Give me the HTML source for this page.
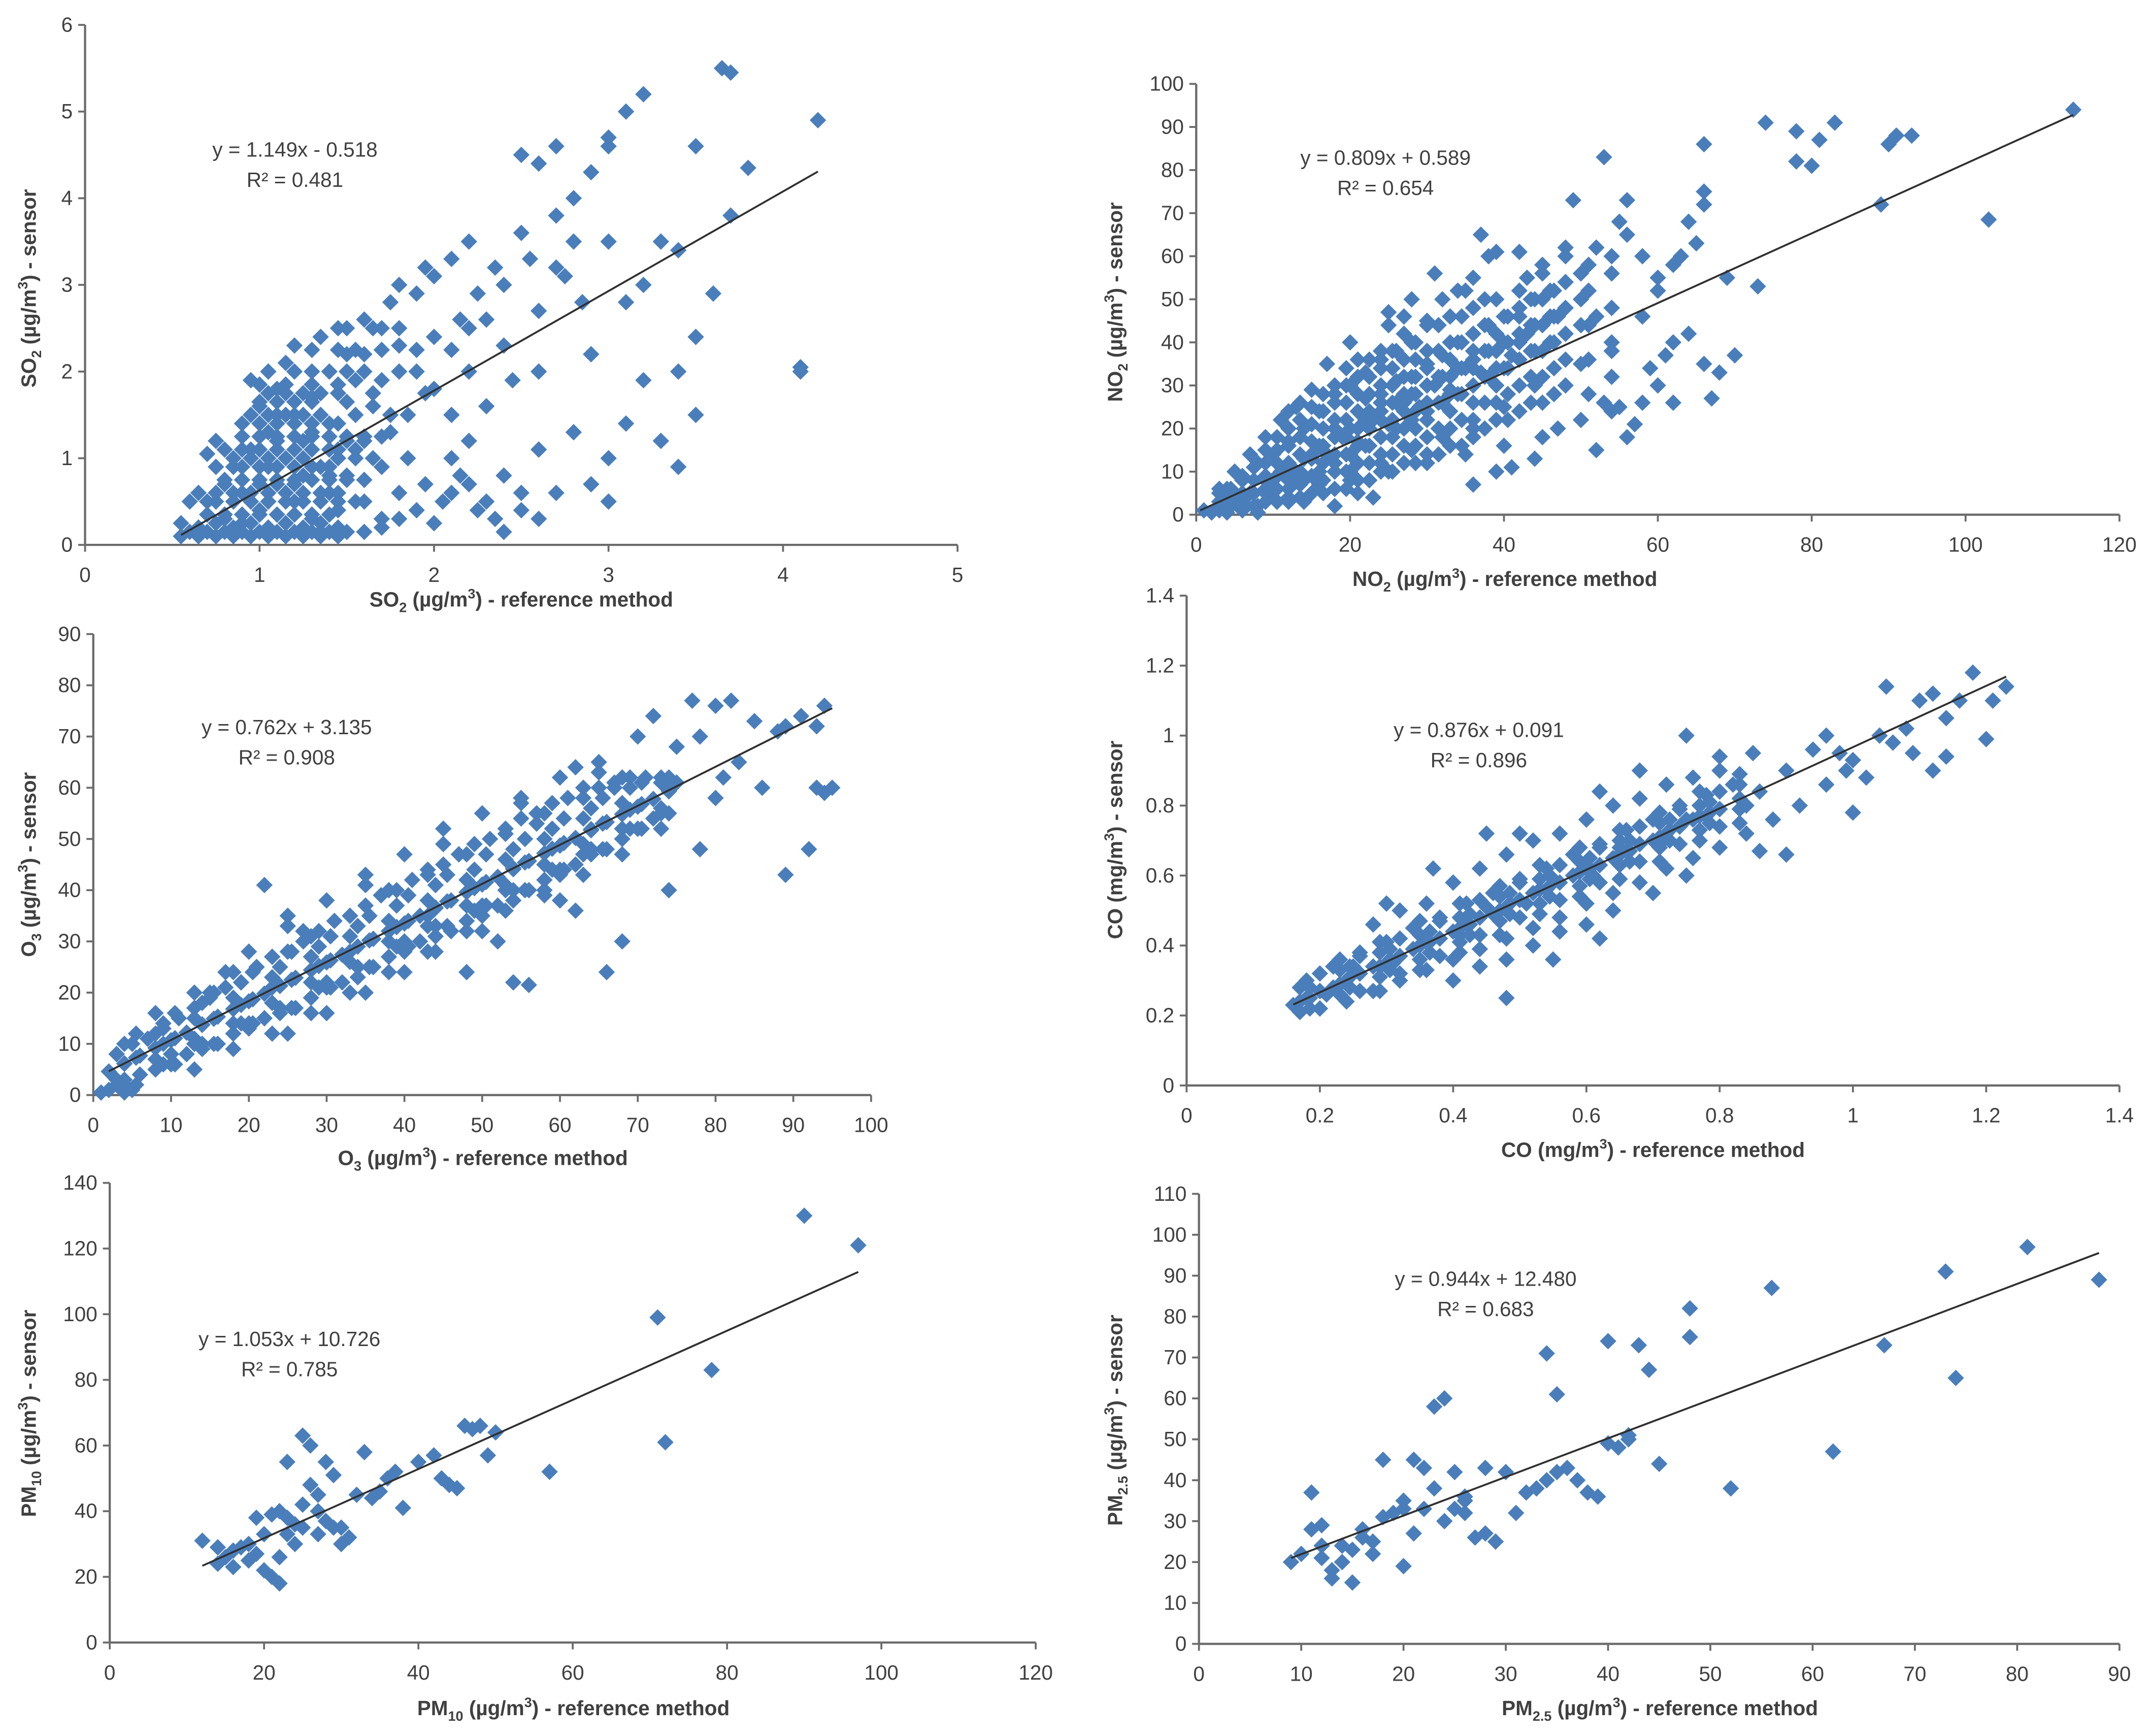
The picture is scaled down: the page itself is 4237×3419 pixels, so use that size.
<!DOCTYPE html>
<html><head><meta charset="utf-8"><title>Sensor vs reference scatter plots</title>
<style>
html,body{margin:0;padding:0;background:#fff;}
svg{display:block;}
text{font-family:"Liberation Sans",Arial,sans-serif;fill:#404040;}
.tick{font-size:15px;}
.title{font-size:15px;font-weight:bold;}
.eq{font-size:15px;}
</style></head>
<body>
<svg id="root" width="4237" height="3419" viewBox="0 0 1568 1265" xmlns="http://www.w3.org/2000/svg"></svg>
<script>
// ---------- SO2 ----------
const so2X=[0.55,0.65,0.75,0.85,0.95,1.05,1.15,1.25,1.35,1.45,0.55,0.65,0.75,0.85,0.95,1.05,1.15,1.25,1.35,1.45,0.7,0.8,0.9,1.0,1.1,1.2,1.3,1.4,0.85,0.95,1.05,1.15,1.25,1.35,1.45,1.0,1.1,1.2,1.3,1.4,0.95,1.15,1.3,1.35,1.5,1.6,1.7,1.75,1.9,2.0,2.1,2.2,1.8,1.55,1.65,1.75,1.85,1.95,2.05,2.15,2.25,1.5,1.6,1.7,1.8,1.9,2.0,2.1,2.2,2.3,2.4,2.5,2.5,2.6,2.7,2.8,2.9,3.0,3.1,3.2,3.0,2.7,2.4,2.6,2.7,2.8,2.9,3.1,3.2,3.3,3.4,3.5,3.6,3.65,3.7,3.8,3.7,4.1,4.2,3.4,3.5,3.3,3.2,3.0,2.9,2.8,2.6,2.5,2.4,2.3,2.2,2.1,2.35,2.7,3.0,3.1,3.4,3.5,3.0,2.6,2.0,1.9,1.8,1.7,1.6,1.45,1.2,0.75,0.7,0.6,0.65,1.1,1.25,1.05,0.9,1.35,1.45,2.15,2.25,1.95,2.35,2.55,2.75,2.85,2.45,4.1,1.0,1.2,1.4,0.8,1.1,1.3,1.5,1.6,1.7];
const so2Y=[0.1,0.1,0.1,0.1,0.1,0.1,0.1,0.1,0.1,0.1,0.25,0.2,0.25,0.2,0.25,0.2,0.25,0.2,0.25,0.2,0.5,0.3,0.6,0.4,0.7,0.5,0.3,0.6,0.9,1.1,1.3,1.0,1.2,0.9,1.1,1.6,1.8,1.5,1.7,1.4,1.9,2.1,2.0,2.4,2.2,2.6,2.5,2.8,2.9,3.1,3.3,3.5,3.0,1.9,1.6,1.3,1.0,0.7,0.5,0.8,0.4,0.8,0.5,0.3,0.6,0.4,1.8,1.5,2.0,2.6,3.0,3.6,4.5,4.4,3.8,4.0,4.3,4.7,5.0,5.2,4.6,4.6,2.3,2.0,3.2,3.5,2.2,2.8,3.0,3.5,3.4,4.6,2.9,5.5,5.45,4.35,3.8,2.0,4.9,2.0,1.5,1.2,1.9,1.0,0.7,1.3,1.1,0.4,0.8,1.6,1.2,1.0,0.3,0.6,0.5,1.4,0.9,2.4,3.5,2.7,2.4,2.0,2.3,1.9,2.2,2.5,2.3,1.2,1.05,0.5,0.2,1.5,0.8,0.9,0.25,0.15,0.4,2.6,2.9,3.2,3.2,3.3,3.1,2.8,1.9,2.05,0.7,0.7,0.8,0.7,1.2,1.3,1.2,1.2,0.9];
const so2X2=[0.7,0.8,0.9,1.0,1.1,1.2,1.3,1.4,0.75,0.85,0.95,1.05,1.15,1.25,1.35,1.45,1.55,0.8,0.9,1.0,1.1,1.2,1.3,1.4,1.5,1.6,0.85,0.95,1.05,1.25,1.45,1.55,1.65,0.9,1.0,1.1,1.2,1.3,1.4,1.5,1.6,1.7,0.95,1.05,1.15,1.25,1.35,1.55,1.75,1.85,1.05,1.15,1.25,1.35,1.45,1.65,1.95,1.05,1.2,1.4,1.5,1.6,1.8,1.3,1.45,1.55,1.7,1.9,2.1,1.5,1.65,1.8,2.2,1.6,1.7,1.8,2.0,2.1,2.2,2.3,2.5,2.6,2.4];
const so2Y2=[0.35,0.35,0.35,0.35,0.35,0.35,0.35,0.35,0.5,0.5,0.5,0.5,0.5,0.5,0.5,0.5,0.5,0.75,0.75,0.75,0.75,0.75,0.75,0.75,0.75,0.75,1.0,1.0,1.0,1.0,1.0,1.0,1.0,1.25,1.25,1.25,1.25,1.25,1.25,1.25,1.25,1.25,1.5,1.5,1.5,1.5,1.5,1.5,1.5,1.5,1.75,1.75,1.75,1.75,1.75,1.75,1.75,2.0,2.0,2.0,2.0,2.0,2.0,2.25,2.25,2.25,2.25,2.25,2.25,2.5,2.5,2.5,2.5,0.15,0.2,0.3,0.25,0.6,0.7,0.5,0.6,0.3,0.15];
const so2X3=[0.65,0.75,0.85,0.95,1.05,1.15,1.25,1.35,1.45,0.75,0.9,1.0,1.1,1.2,1.3,1.4,0.8,0.9,1.0,1.1,1.2,1.3,1.4,1.55,0.9,1.0,1.1,1.2,1.3,1.45,1.0,1.1,1.2,1.3,1.5,1.0,1.15,1.3,1.45,0.6,0.7,0.8,0.9,1.0,1.1,1.2,1.3,1.4,1.5];
const so2Y3=[0.6,0.6,0.6,0.6,0.6,0.6,0.6,0.6,0.6,0.9,0.9,0.9,0.9,0.9,0.9,0.9,1.1,1.1,1.1,1.1,1.1,1.1,1.1,1.1,1.4,1.4,1.4,1.4,1.4,1.4,1.65,1.65,1.65,1.65,1.65,1.85,1.85,1.85,1.85,0.15,0.15,0.15,0.15,0.15,0.15,0.15,0.15,0.15,0.15];
// ---------- NO2 ----------
const no2X=[1,3,5,7,9,11,4,6,8,10,12,14,16,18,20,22,24,26,28,30,32,34,36,38,6,8,10,12,14,16,18,20,22,24,26,28,30,32,34,36,38,40,42,44,46,48,50,52,54,10,12,14,16,18,20,22,24,26,28,30,32,34,36,38,40,42,44,46,48,50,15,20,25,30,35,40,45,50,55,18,22,26,30,34,38,42,46,50,54,45,48,52,56,58,60,62,64,66,66,53,49,56,55,37,39,42,31,20,17,25,28,13,11,9,7,5,3,21,23,18,14,36,39,41,44,47,52,56,58,60,62,66,68,70,64,62,67,57,53,59,61,44,40,36,32,28,24,20,16,12,8,4,2,24,28,32,36,40,44,48,25,27,33,35,43,45,50,54,58,60,63,65,74,78,83,81,78,80,90,91,93,89,103,114,73,69,66,15,19,23,27,31,35,39,43,47,13,17,21,25,29,33,37,41,6,9,12];
const no2Y=[1,2,3,5,8,10,6,9,12,14,17,20,24,28,30,33,36,38,40,45,50,52,55,60,1,2,4,6,8,10,12,14,16,18,20,22,24,26,28,30,32,34,36,38,40,42,44,46,48,8,11,13,16,18,20,22,24,26,28,30,32,34,36,38,40,42,44,46,48,50,5,8,10,12,14,16,18,22,25,20,27,31,35,40,44,48,52,56,60,58,62,62,65,60,55,58,68,72,86,83,73,73,68,65,61,61,56,40,35,47,50,25,22,18,14,10,6,5,4,2,3,7,10,11,13,20,15,18,26,30,26,35,33,37,42,40,27,21,26,34,37,30,25,20,18,15,12,10,7,3,0.5,0.5,0.5,28,32,37,42,46,50,54,44,46,46,52,55,50,35,38,46,52,60,63,91,89,91,87,82,81,86,88,88,72,68.5,94,53,55,75,14,18,22,26,30,34,38,42,46,10,14,17,21,25,29,33,37,3,5,8];
const no2X2=[3,3,3,6,6,6,9,9,9,9,9,12,12,12,12,12,12,15,15,15,15,15,15,15,18,18,18,18,18,18,18,21,21,21,21,21,21,21,21,24,24,24,24,24,24,24,24,27,27,27,27,27,27,27,27,30,30,30,30,30,30,30,30,33,33,33,33,33,33,33,33,36,36,36,36,36,36,36,36,39,39,39,39,39,39,39,42,42,42,42,42,42,45,45,45,45,45,45,48,48,48,48,48,48,51,51,51,51,51,54,54,54,54,54];
const no2Y2=[1,3,5,2,5,8,3,6,9,12,15,4,8,12,16,20,24,5,9,13,17,21,25,29,6,10,14,18,22,26,30,8,12,16,20,24,28,32,36,10,14,18,22,26,30,34,38,12,16,20,24,28,32,36,42,14,18,22,26,30,34,38,44,16,20,24,28,32,36,40,46,18,22,26,30,34,38,42,48,22,26,30,34,38,42,50,24,30,36,40,46,52,26,32,38,44,50,56,30,36,42,48,54,60,28,36,44,52,58,24,32,40,48,56];
const no2X3=[4.5,4.5,4.5,7.5,7.5,7.5,7.5,10.5,10.5,10.5,10.5,10.5,10.5,13.5,13.5,13.5,13.5,13.5,13.5,13.5,16.5,16.5,16.5,16.5,16.5,16.5,16.5,19.5,19.5,19.5,19.5,19.5,19.5,19.5,19.5,22.5,22.5,22.5,22.5,22.5,22.5,22.5,22.5,25.5,25.5,25.5,25.5,25.5,25.5,25.5,25.5,28.5,28.5,28.5,28.5,28.5,28.5,28.5,28.5,31.5,31.5,31.5,31.5,31.5,31.5,34.5,34.5,34.5,34.5,34.5,34.5,37.5,37.5,37.5,37.5,37.5,37.5,40.5,40.5,40.5,40.5,40.5,43.5,43.5,43.5,43.5,43.5,46.5,46.5,46.5,46.5,46.5];
const no2Y3=[2,4,6,2,5,8,11,3,6,9,12,15,18,4,7,10,14,18,22,26,5,8,12,16,20,24,28,6,10,14,18,22,26,30,34,8,12,16,20,24,28,32,36,10,14,18,22,26,30,34,38,12,16,20,24,28,32,36,40,14,20,26,32,38,44,16,22,28,34,40,46,20,26,32,38,44,50,22,28,34,40,46,26,32,38,44,50,28,34,40,46,52];
// ---------- O3 ----------
const o3X=[2,4,6,8,10,12,14,16,18,20,22,24,26,28,30,32,34,36,38,40,42,44,46,48,50,52,54,56,58,60,62,64,66,68,70,72,74,3,5,7,9,11,13,15,17,19,21,23,25,27,29,31,33,35,37,39,41,43,45,47,49,51,53,55,57,59,61,63,65,67,69,71,73,75,4,6,8,10,12,14,16,18,20,22,24,26,28,30,32,34,36,38,40,42,44,46,48,50,52,54,56,58,60,62,64,66,68,70,72,20,22,25,30,35,40,45,50,55,60,62,65,70,72,77,80,82,85,88,89,93,94,91,78,75,25,30,35,40,44,48,50,52,54,56,58,60,62,66,68,74,78,80,86,89,92,93,95,94,83,81,1,2,3,5,4,15,25,35,45,55,65,13,23,33,43,53,63,73,10,20,30,40,50,60,70,17,27,37,47,57,67];
const o3Y=[4.6,6.1,7.7,9.2,10.7,12.2,13.7,15.3,16.8,18.3,19.8,21.3,22.9,24.4,25.9,27.4,29,30.5,32,33.5,35,36.5,38,39.6,41.1,42.6,44.1,45.7,47.2,48.7,50.2,51.7,53.3,54.8,56.3,57.8,59.3,8,10,11,13,15,17,19,21,22,25,27,28,30,32,34,35,37,39,40,42,44,45,47,49,50,52,54,55,57,58,60,60,61,62,62,62,61,3,4,5,6,8,9,10,12,13,15,16,17,19,21,22,23,25,27,28,30,31,32,34,35,37,38,40,42,43,45,47,48,50,52,54,28,41,35,38,43,47,52,55,58,62,64,65,70,74,77,76,77,73,71,72,72,76,74,70,68,12,16,20,24,28,24,32,30,22,21.5,40,38,36,24,30,40,48,58,60,43,48,60,60,59,65,62,0.5,1,2,1,0.5,20,33,41,49,57,63,11,21,28,35,40,47,55,8,14,22,30,37,44,52,24,32,39,47,53,60];
const o3X2=[3,8,13,18,23,28,33,38,43,48,53,58,63,68,73,3,8,13,18,23,28,33,38,43,48,53,58,63,68,73,8,13,18,23,28,33,38,43,48,53,58,63,68,13,18,23,28,33,38,43,48,53,58,63,68,73,5.5,10.5,15.5,20.5,25.5,30.5,35.5,40.5,45.5,50.5,55.5,60.5,65.5,70.5,5.5,10.5,15.5,20.5,25.5,30.5,35.5,40.5,45.5,50.5,55.5,60.5,65.5,70.5,5.5,10.5,15.5,20.5,25.5,30.5,35.5,40.5,45.5,50.5,55.5,60.5,65.5,70.5];
const o3Y2=[8,12,15,19,23,27,31,34,38,42,46,50,54,57,61,3,7,10,14,18,22,26,30,33,37,41,45,49,52,56,16,20,24,27,31,35,40,43,47,51,55,58,62,5,9,12,16,20,24,28,32,36,39,43,47,52,7.3,11.1,14.9,18.7,22.5,26.3,30.2,34,37.8,41.6,45.4,49.2,53,56.8,12,16,20,24,28,31,35,39,43,47,50,54,58,61,2,6,10,14,17,21,25,29,33,37,40,44,48,52];
const o3X3=[4,9,14,19,24,29,34,39,44,49,54,59,64,69,74,4,9,14,19,24,29,34,39,44,49,54,59,64,69,74,4,9,14,19,24,29,34,39,44,49,54,59,64,69,74];
const o3Y3=[6.2,10,13.8,17.6,21.4,25.2,29,32.8,36.6,40.4,44.3,48.1,51.9,55.7,59.5,10,14,18,22,25,29,33,37,41,44,48,52,56,60,62,2,6,10,14,17,21,25,29,33,36,40,44,48,52,55];
// ---------- CO ----------
const coX=[0.16,0.18,0.20,0.22,0.24,0.26,0.28,0.30,0.32,0.34,0.36,0.38,0.40,0.42,0.44,0.46,0.48,0.50,0.52,0.54,0.56,0.58,0.60,0.62,0.64,0.66,0.68,0.70,0.72,0.74,0.76,0.78,0.80,0.18,0.22,0.26,0.30,0.34,0.38,0.42,0.46,0.50,0.54,0.58,0.62,0.66,0.70,0.74,0.78,0.82,0.28,0.32,0.36,0.40,0.44,0.48,0.52,0.56,0.60,0.64,0.68,0.72,0.76,0.80,0.30,0.37,0.45,0.50,0.62,0.68,0.20,0.24,0.28,0.32,0.36,0.40,0.44,0.48,0.52,0.56,0.60,0.64,0.68,0.72,0.76,0.80,0.84,0.40,0.44,0.48,0.52,0.56,0.60,0.64,0.70,0.75,0.48,0.55,0.62,0.84,0.86,0.88,0.90,0.92,0.94,0.96,0.98,1.00,1.02,1.04,1.06,1.08,1.10,1.12,1.14,1.16,1.18,1.20,1.23,1.21,1.05,0.90,0.86,0.96,1.00,0.85,0.75,0.80,1.09,1.12,0.99,1.14,0.25,0.35,0.45,0.55,0.65,0.75,0.21,0.31,0.41,0.51,0.61,0.71];
const coY=[0.23,0.25,0.27,0.28,0.30,0.32,0.34,0.35,0.37,0.39,0.41,0.42,0.44,0.46,0.48,0.49,0.51,0.53,0.55,0.56,0.58,0.60,0.62,0.63,0.65,0.67,0.69,0.70,0.72,0.74,0.76,0.77,0.79,0.30,0.34,0.38,0.41,0.45,0.48,0.52,0.55,0.59,0.62,0.66,0.69,0.73,0.76,0.80,0.83,0.86,0.46,0.50,0.52,0.58,0.62,0.66,0.70,0.72,0.76,0.80,0.82,0.86,0.88,0.90,0.52,0.62,0.72,0.72,0.84,0.90,0.22,0.24,0.27,0.30,0.33,0.36,0.39,0.42,0.45,0.48,0.52,0.55,0.58,0.62,0.65,0.68,0.72,0.30,0.34,0.36,0.40,0.44,0.46,0.50,0.55,0.60,0.25,0.36,0.42,0.80,0.84,0.76,0.90,0.80,0.96,0.86,0.95,0.93,0.88,1.00,0.98,1.02,1.10,1.12,1.05,1.10,1.18,0.99,1.14,1.10,1.14,0.66,0.67,1.00,0.78,0.95,1.00,0.94,0.95,0.90,0.90,0.94,0.34,0.43,0.51,0.59,0.68,0.76,0.26,0.35,0.43,0.52,0.60,0.69];
const coX2=[0.17,0.23,0.29,0.35,0.41,0.47,0.53,0.59,0.65,0.71,0.77,0.83,0.17,0.23,0.29,0.35,0.41,0.47,0.53,0.59,0.65,0.71,0.77,0.83,0.17,0.23,0.29,0.35,0.41,0.47,0.53,0.59,0.65,0.71,0.77,0.83,0.23,0.29,0.35,0.41,0.47,0.53,0.59,0.65,0.71,0.77,0.83,0.29,0.35,0.41,0.47,0.53,0.59,0.65,0.71,0.77,0.83,0.20,0.26,0.32,0.38,0.44,0.50,0.56,0.62,0.68,0.74,0.80,0.20,0.26,0.32,0.38,0.44,0.50,0.56,0.62,0.68,0.74,0.80,0.20,0.26,0.32,0.38,0.44,0.50,0.56,0.62,0.68,0.74,0.80];
const coY2=[0.24,0.29,0.34,0.40,0.45,0.50,0.56,0.61,0.66,0.71,0.77,0.82,0.28,0.33,0.38,0.43,0.48,0.54,0.59,0.64,0.70,0.75,0.80,0.86,0.21,0.26,0.31,0.36,0.41,0.47,0.52,0.57,0.63,0.68,0.73,0.79,0.36,0.41,0.47,0.52,0.57,0.63,0.68,0.73,0.78,0.84,0.89,0.27,0.33,0.38,0.43,0.49,0.54,0.59,0.64,0.70,0.75,0.27,0.32,0.37,0.42,0.48,0.53,0.58,0.63,0.69,0.74,0.79,0.32,0.37,0.42,0.47,0.53,0.58,0.63,0.68,0.74,0.79,0.84,0.22,0.27,0.32,0.37,0.43,0.48,0.53,0.58,0.64,0.69,0.74];
const coX3=[0.185,0.245,0.305,0.365,0.425,0.485,0.545,0.605,0.665,0.725,0.785,0.185,0.245,0.305,0.365,0.425,0.485,0.545,0.605,0.665,0.725,0.785,0.185,0.245,0.305,0.365,0.425,0.485,0.545,0.605,0.665,0.725,0.785];
const coY3=[0.25,0.31,0.36,0.41,0.46,0.52,0.57,0.62,0.67,0.73,0.78,0.28,0.34,0.39,0.44,0.49,0.55,0.60,0.65,0.70,0.76,0.81,0.22,0.28,0.33,0.38,0.43,0.49,0.54,0.59,0.64,0.70,0.75];
// ---------- PM10 ----------
const pm10X=[12,14,15,16,17,18,18,19,20,20,21,21,22,22,22,23,23,24,24,25,25,26,26,27,27,28,28,29,29,30,31,32,33,35,36,37,38,40,42,43,44,45,46,47,48,49,50,57,71,72,78,90,97,23,25,27,14,16,19,30,34];
const pm10Y=[31,29,26,28,29,30,25,38,33,22,20,39,40,18,26,55,38,36,30,63,42,60,48,40,33,55,37,51,35,30,32,45,58,46,50,52,41,55,57,50,48,47,66,65,66,57,64,52,99,61,83,130,121,33,35,45,24,23,27,35,44];
// ---------- PM2.5 ----------
const pm25X=[9,10,11,11,12,12,12,13,13,14,14,15,15,16,16,17,17,18,18,19,20,20,21,21,22,22,23,23,24,24,25,25,26,26,27,28,29,30,31,32,33,34,34,35,35,36,37,38,39,40,40,41,42,42,43,44,45,48,48,52,56,62,67,73,74,81,88,28,20,26];
const pm25Y=[20,22,28,37,24,21,29,18,16,24,20,15,23,28,26,22,25,31,45,32,19,35,45,27,43,33,58,38,60,30,42,33,32,35,26,27,25,42,32,37,38,40,71,42,61,43,40,37,36,49,74,48,50,51,73,67,44,75,82,38,87,47,73,91,65,97,89,43,33,36];

// axis ticks / labels
const so2Ticks={x:[0,1,2,3,4,5],y:[0,1,2,3,4,5,6]};
const no2Ticks={x:[0,20,40,60,80,100,120],y:[0,10,20,30,40,50,60,70,80,90,100]};
const o3Ticks={x:[0,10,20,30,40,50,60,70,80,90,100],y:[0,10,20,30,40,50,60,70,80,90]};
const coTicks={x:[0,0.2,0.4,0.6,0.8,1,1.2,1.4],y:[0,0.2,0.4,0.6,0.8,1,1.2,1.4]};
const pm10Ticks={x:[0,20,40,60,80,100,120],y:[0,20,40,60,80,100,120,140]};
const pm25Ticks={x:[0,10,20,30,40,50,60,70,80,90],y:[0,10,20,30,40,50,60,70,80,90,100,110]};
// regression (slope, intercept, x-range)
const so2Fit=[1.149,-0.518,0.55,4.2];
const no2Fit=[0.809,0.589,0.5,114];
const o3Fit=[0.762,3.135,2,95];
const coFit=[0.876,0.091,0.16,1.23];
const pm10Fit=[1.053,10.726,12,97];
const pm25Fit=[0.944,12.480,9,88];

const NS='http://www.w3.org/2000/svg';
const root=document.getElementById('root');
function el(tag,attrs,parent){const e=document.createElementNS(NS,tag);for(const k in attrs)e.setAttribute(k,attrs[k]);(parent||root).appendChild(e);return e;}
function richText(parent,parts,attrs){
  const t=el('text',attrs,parent);
  parts.forEach(p=>{const s=el('tspan',{},t);s.textContent=p[0];
    if(p[1]==='sub'){s.setAttribute('font-size','10');s.setAttribute('dy','4');}
    if(p[1]==='sup'){s.setAttribute('font-size','10');s.setAttribute('dy','-6');}
    if(p[2])s.setAttribute('dy',p[2]);});
  return t;
}

function chart(c){
  const g=el('g',{});
  
  
  const xmin=c.ticks.x[0],xmax=c.ticks.x[c.ticks.x.length-1];
  const ymin=c.ticks.y[0],ymax=c.ticks.y[c.ticks.y.length-1];
  const sx=v=>c.x0+(v-xmin)/(xmax-xmin)*(c.x1-c.x0);
  const sy=v=>c.y0-(v-ymin)/(ymax-ymin)*(c.y0-c.y1);
  const ax=el('line',{x1:c.x0,y1:c.y0,x2:c.x1,y2:c.y0,stroke:'#6b6b6b','stroke-width':1.6},g);
  
  
  const ay=el('line',{x1:c.x0,y1:c.y0,x2:c.x0,y2:c.y1,stroke:'#6b6b6b','stroke-width':1.6},g);
  
  
  c.ticks.x.forEach(v=>{
    el('line',{x1:sx(v),y1:c.y0,x2:sx(v),y2:c.y0+5,stroke:'#6b6b6b','stroke-width':1.4},g);
    const t=el('text',{x:sx(v),y:c.y0+27,'text-anchor':'middle',class:'tick'},g);
    t.textContent=String(v);
    
    
  });
  c.ticks.y.forEach(v=>{
    el('line',{x1:c.x0-5,y1:sy(v),x2:c.x0,y2:sy(v),stroke:'#6b6b6b','stroke-width':1.4},g);
    const t=el('text',{x:c.x0-9,y:sy(v)+5,'text-anchor':'end',class:'tick'},g);
    t.textContent=String(v);
    
    
  });
  const xs=c.xs.concat(c.xs2||[],c.xs3||[]), ys=c.ys.concat(c.ys2||[],c.ys3||[]);
  for(let i=0;i<xs.length;i++){
    const px=sx(xs[i]),py=sy(ys[i]),r=6;
    const p=el('polygon',{points:`${px},${py-r} ${px+r},${py} ${px},${py+r} ${px-r},${py}`,fill:'#4a7ebb'},g);
    
    
  }
  const f=c.fit;
  const tl=el('line',{x1:sx(f[2]),y1:sy(f[0]*f[2]+f[1]),x2:sx(f[3]),y2:sy(f[0]*f[3]+f[1]),stroke:'#303030','stroke-width':1.4},g);
  
  
  const e1=el('text',{x:c.eq[0],y:c.eq[1],'text-anchor':'middle',class:'eq'},g);
  e1.textContent=c.eqText;
  
  
  const e2=el('text',{x:c.eq[0],y:c.eq[1]+22,'text-anchor':'middle',class:'eq'},g);
  e2.textContent=c.r2Text;
  
  
  const xt=richText(g,c.xTitle,{x:c.xt[0],y:c.xt[1],'text-anchor':'middle',class:'title'});
  
  
  const yt=richText(g,c.yTitle,{x:0,y:0,'text-anchor':'middle',class:'title',transform:`translate(${c.yt[0]},${c.yt[1]}) rotate(-90)`});
  
  
}
function titleParts(sym,sub,unit,suffix){
  const p=[[sym]];
  if(sub)p.push([sub,'sub']);
  p.push([' ('+unit+'/m',null,sub?'-4':null]);
  p.push(['3','sup']);
  p.push([')'+suffix,null,'6']);
  return p;
}
chart({name:'so2-chart',xs:so2X,ys:so2Y,xs2:so2X2,ys2:so2Y2,xs3:so2X3,ys3:so2Y3,ticks:so2Ticks,fit:so2Fit,x0:62,x1:698,y0:397,y1:18,eq:[215,114],eqText:'y = 1.149x - 0.518',r2Text:'R² = 0.481',xt:[380,442],yt:[26,210],xTitle:titleParts('SO','2','µg',' - reference method'),yTitle:titleParts('SO','2','µg',' - sensor')});
chart({name:'no2-chart',xs:no2X,ys:no2Y,xs2:no2X2,ys2:no2Y2,xs3:no2X3,ys3:no2Y3,ticks:no2Ticks,fit:no2Fit,x0:872,x1:1545,y0:375,y1:61,eq:[1010,120],eqText:'y = 0.809x + 0.589',r2Text:'R² = 0.654',xt:[1097,427],yt:[818,220],xTitle:titleParts('NO','2','µg',' - reference method'),yTitle:titleParts('NO','2','µg',' - sensor')});
chart({name:'o3-chart',xs:o3X,ys:o3Y,xs2:o3X2,ys2:o3Y2,xs3:o3X3,ys3:o3Y3,ticks:o3Ticks,fit:o3Fit,x0:68,x1:635,y0:798,y1:462,eq:[209,535],eqText:'y = 0.762x + 3.135',r2Text:'R² = 0.908',xt:[352,849],yt:[26,630],xTitle:titleParts('O','3','µg',' - reference method'),yTitle:titleParts('O','3','µg',' - sensor')});
chart({name:'co-chart',xs:coX,ys:coY,xs2:coX2,ys2:coY2,xs3:coX3,ys3:coY3,ticks:coTicks,fit:coFit,x0:865,x1:1545,y0:791,y1:434,eq:[1078,537],eqText:'y = 0.876x + 0.091',r2Text:'R² = 0.896',xt:[1205,843],yt:[818,612],xTitle:titleParts('CO',null,'mg','  - reference method'),yTitle:titleParts('CO',null,'mg',' - sensor')});
chart({name:'pm10-chart',xs:pm10X,ys:pm10Y,ticks:pm10Ticks,fit:pm10Fit,x0:80,x1:755,y0:1197,y1:862,eq:[211,981],eqText:'y = 1.053x + 10.726',r2Text:'R² = 0.785',xt:[418,1250],yt:[26,1030],xTitle:titleParts('PM','10','µg',' - reference method'),yTitle:titleParts('PM','10','µg',' - sensor')});
chart({name:'pm25-chart',xs:pm25X,ys:pm25Y,ticks:pm25Ticks,fit:pm25Fit,x0:874,x1:1545,y0:1198,y1:870,eq:[1083,937],eqText:'y = 0.944x + 12.480',r2Text:'R² = 0.683',xt:[1210,1250],yt:[818,1035],xTitle:titleParts('PM','2.5','µg',' - reference method'),yTitle:titleParts('PM','2.5','µg',' - sensor')});
</script>
</body></html>
